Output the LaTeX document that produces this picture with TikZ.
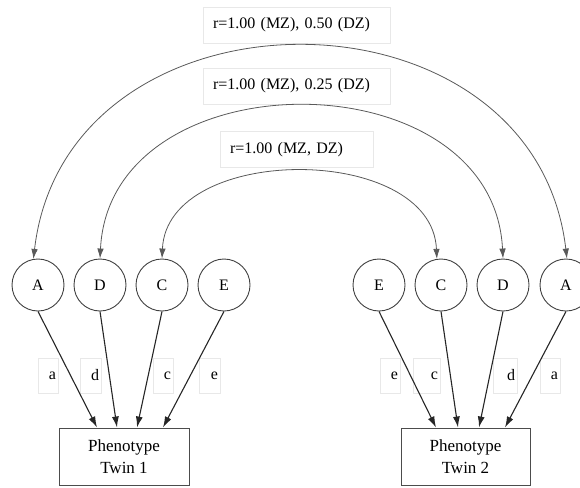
\documentclass[tikz,border=0pt]{standalone}
\usepackage{fontspec}
\setmainfont{Liberation Serif}
\usetikzlibrary{arrows.meta}
\begin{document}
\begin{tikzpicture}[x=1pt,y=-1pt,
  latent/.style={circle,draw=black!75,line width=0.9pt,minimum size=52pt,inner sep=0pt,
    font=\fontsize{16}{18}\selectfont},
  pheno/.style={rectangle,draw=black!70,line width=1pt,minimum height=57pt,align=center,
    font=\fontsize{17}{22}\selectfont},
  corr/.style={rectangle,draw=black!9,fill=white,line width=0.8pt,minimum height=36pt,
    inner xsep=10pt,align=left,font=\fontsize{16}{18}\selectfont},
  pathlbl/.style={rectangle,draw=black!9,line width=0.8pt,minimum height=35pt,inner xsep=2pt,
    text width=#1,align=right,font=\fontsize{16}{18}\selectfont},
  covar/.style={draw=black!65,line width=0.8pt,
    {Latex[length=10pt,width=6.5pt]}-{Latex[length=10pt,width=6.5pt]}},
  load/.style={draw=black!85,line width=1.1pt,-{Latex[length=11pt,width=7pt]}}]

\clip (0,0) rectangle (580,487);

% latent factors, twin 1 and twin 2
\node[latent] (A1) at (38,285)  {A};
\node[latent] (D1) at (100,285) {D};
\node[latent] (C1) at (162,285) {C};
\node[latent] (E1) at (224,285) {E};
\node[latent] (E2) at (379,285) {E};
\node[latent] (C2) at (441,285) {C};
\node[latent] (D2) at (503,285) {D};
\node[latent] (A2) at (566,285) {A};

% observed phenotypes
\node[pheno,minimum width=130pt] (P1) at (124,456.5)   {Phenotype\\Twin 1};
\node[pheno,minimum width=129pt] (P2) at (465.5,456.5) {Phenotype\\Twin 2};

% correlation labels
\node[corr,text width=167pt] (rA) at (296.5,25)    {r=1.00 (MZ), 0.50 (DZ)};
\node[corr,text width=167pt] (rD) at (296.5,86)    {r=1.00 (MZ), 0.25 (DZ)};
\node[corr,text width=133pt] (rC) at (296.5,149.5) {r=1.00 (MZ, DZ)};

% path coefficient labels
\node[pathlbl=16pt] (la1) at (48,375.5)    {a};
\node[pathlbl=17pt] (ld1) at (90.5,375.5)  {d};
\node[pathlbl=16pt] (lc1) at (163,375.5)   {c};
\node[pathlbl=17pt] (le1) at (209.5,375.5) {e};
\node[pathlbl=16pt] (le2) at (390,375.5)   {e};
\node[pathlbl=23pt] (lc2) at (426.5,375.5) {c};
\node[pathlbl=20pt] (ld2) at (505,375.5)   {d};
\node[pathlbl=16pt] (la2) at (550,375.5)   {a};

% cross-twin correlations
\draw[covar] (A1.100) .. controls (66.5,-24) and (534,-24) .. (A2.88);
\draw[covar] (D1.north) .. controls (110,56) and (493,56) .. (D2.north);
\draw[covar] (C1.north) .. controls (167,143) and (432,143) .. (C2.99);

% paths to phenotypes
\draw[load] (A1.south) -- ([xshift=-27pt]P1.north);
\draw[load] (D1.south) -- ([xshift=-7pt]P1.north);
\draw[load] (C1.south) -- ([xshift=13pt]P1.north);
\draw[load] (E1.south) -- ([xshift=39pt]P1.north);
\draw[load] (E2.south) -- ([xshift=-29.5pt]P2.north);
\draw[load] (C2.south) -- ([xshift=-7.5pt]P2.north);
\draw[load] (D2.south) -- ([xshift=13.5pt]P2.north);
\draw[load] (A2.south) -- ([xshift=39.5pt]P2.north);
\end{tikzpicture}
\end{document}
